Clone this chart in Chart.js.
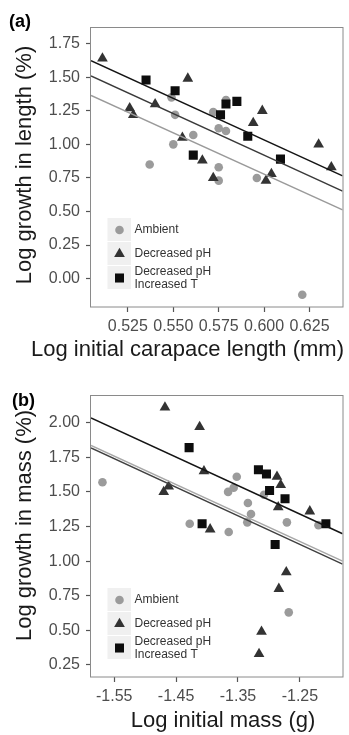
<!DOCTYPE html>
<html>
<head>
<meta charset="utf-8">
<script src="https://cdn.jsdelivr.net/npm/chart.js@4.4.0/dist/chart.umd.min.js"></script>
<style>
  html, body { margin: 0; padding: 0; background: #ffffff; }
  #wrap { position: relative; width: 349px; height: 735px; overflow: hidden; }
  #wrap canvas { position: absolute; left: 0; }
</style>
</head>
<body>
<div id="wrap">
  <canvas id="panelA" width="349" height="367" style="top:0px"></canvas>
  <canvas id="panelB" width="349" height="368" style="top:367px"></canvas>
</div>
<script>
// ---------------- data ----------------
const groupLabels = ['Ambient', 'Decreased pH', ['Decreased pH', 'Increased T']];

// (a) growth in length vs initial carapace length (log scales)
const lenAmbientX = [0.537, 0.549, 0.551, 0.550, 0.561, 0.572, 0.575, 0.579, 0.579, 0.575, 0.575, 0.596, 0.621];
const lenAmbientY = [0.85, 1.35, 1.22, 1.00, 1.07, 1.24, 1.12, 1.10, 1.33, 0.83, 0.73, 0.75, -0.12];
const lenPhX = [0.511, 0.526, 0.528, 0.540, 0.558, 0.555, 0.566, 0.572, 0.594, 0.599, 0.601, 0.604, 0.630, 0.637];
const lenPhY = [1.64, 1.27, 1.22, 1.30, 1.49, 1.05, 0.88, 0.75, 1.16, 1.25, 0.73, 0.78, 1.00, 0.83];
const lenPhTX = [0.535, 0.551, 0.561, 0.576, 0.579, 0.585, 0.591, 0.609];
const lenPhTY = [1.48, 1.40, 0.92, 1.22, 1.30, 1.32, 1.06, 0.89];
// fitted lines, value at each end of the x range
const lenFitX = [0.5047, 0.6432];
const lenFitAmbient = [1.365, 0.512];
const lenFitPh = [1.510, 0.652];
const lenFitPhT = [1.623, 0.765];
const lenXRange = [0.5047, 0.6432];
const lenYRange = [-0.211, 1.874];
const lenXTicks = [0.525, 0.55, 0.575, 0.6, 0.625];
const lenXTickLabels = ['0.525', '0.550', '0.575', '0.600', '0.625'];
const lenYTicks = [0, 0.25, 0.5, 0.75, 1.0, 1.25, 1.5, 1.75];
const lenYTickLabels = ['0.00', '0.25', '0.50', '0.75', '1.00', '1.25', '1.50', '1.75'];

// (b) growth in mass vs initial mass (log scales)
const massAmbientX = [-1.569, -1.428, -1.366, -1.352, -1.357, -1.334, -1.329, -1.335, -1.365, -1.308, -1.271, -1.220, -1.268];
const massAmbientY = [1.57, 1.27, 1.50, 1.61, 1.53, 1.42, 1.34, 1.28, 1.21, 1.48, 1.28, 1.26, 0.63];
const massPhX = [-1.468, -1.412, -1.405, -1.462, -1.470, -1.395, -1.287, -1.281, -1.285, -1.234, -1.272, -1.284, -1.312, -1.316];
const massPhY = [2.11, 1.97, 1.65, 1.54, 1.50, 1.23, 1.61, 1.55, 1.39, 1.36, 0.92, 0.80, 0.49, 0.33];
const massPhTX = [-1.429, -1.408, -1.317, -1.304, -1.299, -1.274, -1.290, -1.208];
const massPhTY = [1.82, 1.27, 1.66, 1.63, 1.51, 1.45, 1.12, 1.27];
const massFitX = [-1.5875, -1.181];
const massFitAmbient = [1.836, 1.000];
const massFitPh = [1.817, 0.978];
const massFitPhT = [2.034, 1.198];
const massXRange = [-1.5875, -1.181];
const massYRange = [0.163, 2.20];
const massXTicks = [-1.55, -1.45, -1.35, -1.25];
const massXTickLabels = ['-1.55', '-1.45', '-1.35', '-1.25'];
const massYTicks = [0.25, 0.5, 0.75, 1.0, 1.25, 1.5, 1.75, 2.0];
const massYTickLabels = ['0.25', '0.50', '0.75', '1.00', '1.25', '1.50', '1.75', '2.00'];

// ---------------- styling ----------------
const FONT = '"Liberation Sans", Arial, Helvetica, sans-serif';
const TICK_COLOR = '#4d4d4d';
const TITLE_COLOR = '#1a1a1a';
const markerStyles = [
  { pointStyle: 'circle',   radius: 4.3, color: '#9b9b9b' },
  { pointStyle: 'triangle', radius: 6.2, color: '#333333' },
  { pointStyle: 'rect',     radius: 6.4, color: '#0d0d0d' }
];

function toPoints(xs, ys) {
  return xs.map((x, i) => ({ x: x, y: ys[i] }));
}

function pointSet(label, xs, ys, style, order) {
  return {
    label: label,
    data: toPoints(xs, ys),
    pointStyle: style.pointStyle,
    pointRadius: style.radius,
    pointHoverRadius: style.radius,
    backgroundColor: style.color,
    borderColor: style.color,
    pointBorderWidth: 0,
    showLine: false,
    order: order
  };
}

function lineSet(xs, ys, color, order) {
  return {
    label: '',
    data: toPoints(xs, ys),
    showLine: true,
    borderColor: color,
    backgroundColor: color,
    borderWidth: 1.5,
    pointRadius: 0,
    pointHoverRadius: 0,
    fill: false,
    order: order
  };
}

// frame, titles, panel tag and the legend
const panelDecor = {
  id: 'panelDecor',
  afterDraw(chart, args, o) {
    const ctx = chart.ctx;
    const a = chart.chartArea;
    ctx.save();
    // panel frame
    ctx.strokeStyle = '#8a8a8a';
    ctx.lineWidth = 1;
    ctx.strokeRect(Math.round(a.left) - 0.5, Math.round(a.top) + 0.5,
                   Math.round(a.right - a.left) + 0.5, Math.round(a.bottom - a.top) - 0.5);

    // panel tag
    ctx.fillStyle = '#000000';
    ctx.font = 'bold 18px ' + FONT;
    ctx.textAlign = 'left';
    ctx.textBaseline = 'alphabetic';
    ctx.fillText(o.tag, o.tagX, o.tagY);

    // x axis title
    ctx.fillStyle = TITLE_COLOR;
    ctx.font = '22px ' + FONT;
    ctx.textAlign = 'center';
    ctx.fillText(o.xTitle, o.xTitleX, o.xTitleY);

    // y axis title
    ctx.save();
    ctx.translate(o.yTitleX, o.yTitleY);
    ctx.rotate(-Math.PI / 2);
    ctx.fillText(o.yTitle, 0, 0);
    ctx.restore();

    // legend
    const kx = a.left + 16.5;
    const ky = a.bottom - 89;
    const step = 24;
    ctx.font = '12px ' + FONT;
    ctx.textAlign = 'left';
    ctx.textBaseline = 'middle';
    groupLabels.forEach((lab, i) => {
      const top = ky + i * step;
      ctx.fillStyle = '#f0f0f0';
      ctx.fillRect(kx, top, 23.5, step - 1);
      const st = markerStyles[i];
      ctx.fillStyle = st.color;
      ctx.strokeStyle = st.color;
      Chart.helpers.drawPoint(ctx, { pointStyle: st.pointStyle, radius: st.radius, borderWidth: 0, rotation: 0 },
                              kx + 12, top + 12);
      ctx.fillStyle = '#333333';
      const lines = Array.isArray(lab) ? lab : [lab];
      lines.forEach((t, j) => {
        const cy = top + 12 + (j - (lines.length - 1) / 2) * 13.5;
        ctx.fillText(t, kx + 27, cy);
      });
    });
    ctx.restore();
  }
};

function makePanel(canvasId, p) {
  return new Chart(document.getElementById(canvasId), {
    type: 'scatter',
    data: {
      datasets: [
        lineSet(p.fitX, p.fitPhT, '#141414', 1),
        lineSet(p.fitX, p.fitPh, p.phLineColor, 2),
        lineSet(p.fitX, p.fitAmbient, p.ambientLineColor, 3),
        pointSet('Decreased pH, Increased T', p.phTX, p.phTY, markerStyles[2], 4),
        pointSet('Decreased pH', p.phX, p.phY, markerStyles[1], 5),
        pointSet('Ambient', p.ambX, p.ambY, markerStyles[0], 6)
      ]
    },
    options: {
      responsive: false,
      animation: false,
      devicePixelRatio: 1,
      events: [],
      layout: { padding: { top: p.padTop, right: 2, left: 0, bottom: 0 } },
      plugins: {
        legend: { display: false },
        tooltip: { enabled: false },
        panelDecor: p.decor
      },
      scales: {
        x: {
          type: 'linear',
          min: p.xRange[0],
          max: p.xRange[1],
          afterBuildTicks: s => { s.ticks = p.xTicks.map(v => ({ value: v })); },
          afterFit: s => { s.height = p.xAxisHeight; },
          border: { display: false },
          grid: { drawOnChartArea: false, drawTicks: true, tickLength: 5, tickColor: '#555555', tickWidth: 1.2 },
          ticks: {
            autoSkip: false, maxRotation: 0, padding: 5,
            color: TICK_COLOR, font: { family: FONT, size: 16 },
            callback: (v, i) => p.xLabels[i]
          }
        },
        y: {
          type: 'linear',
          min: p.yRange[0],
          max: p.yRange[1],
          afterBuildTicks: s => { s.ticks = p.yTicks.map(v => ({ value: v })); },
          afterFit: s => { s.width = 91; },
          border: { display: false },
          grid: { drawOnChartArea: false, drawTicks: true, tickLength: 5, tickColor: '#555555', tickWidth: 1.2 },
          ticks: {
            autoSkip: false, padding: 6,
            color: TICK_COLOR, font: { family: FONT, size: 16 },
            callback: (v, i) => p.yLabels[i]
          }
        }
      }
    },
    plugins: [panelDecor]
  });
}

makePanel('panelA', {
  ambX: lenAmbientX, ambY: lenAmbientY, phX: lenPhX, phY: lenPhY, phTX: lenPhTX, phTY: lenPhTY,
  fitX: lenFitX, fitAmbient: lenFitAmbient, fitPh: lenFitPh, fitPhT: lenFitPhT,
  phLineColor: '#3a3a3a', ambientLineColor: '#9a9a9a',
  xRange: lenXRange, yRange: lenYRange,
  xTicks: lenXTicks, xLabels: lenXTickLabels, yTicks: lenYTicks, yLabels: lenYTickLabels,
  padTop: 27, xAxisHeight: 60,
  decor: {
    tag: '(a)', tagX: 9, tagY: 27,
    xTitle: 'Log initial carapace length (mm)', xTitleX: 187.5, xTitleY: 355.5,
    yTitle: 'Log growth in length (%)', yTitleX: 31, yTitleY: 165
  }
});

makePanel('panelB', {
  ambX: massAmbientX, ambY: massAmbientY, phX: massPhX, phY: massPhY, phTX: massPhTX, phTY: massPhTY,
  fitX: massFitX, fitAmbient: massFitAmbient, fitPh: massFitPh, fitPhT: massFitPhT,
  phLineColor: '#404040', ambientLineColor: '#a8a8a8',
  xRange: massXRange, yRange: massYRange,
  xTicks: massXTicks, xLabels: massXTickLabels, yTicks: massYTicks, yLabels: massYTickLabels,
  padTop: 28, xAxisHeight: 58,
  decor: {
    tag: '(b)', tagX: 12, tagY: 39,
    xTitle: 'Log initial mass (g)', xTitleX: 223, xTitleY: 359.7,
    yTitle: 'Log growth in mass (%)', yTitleX: 31, yTitleY: 158.5
  }
});
</script>
</body>
</html>
